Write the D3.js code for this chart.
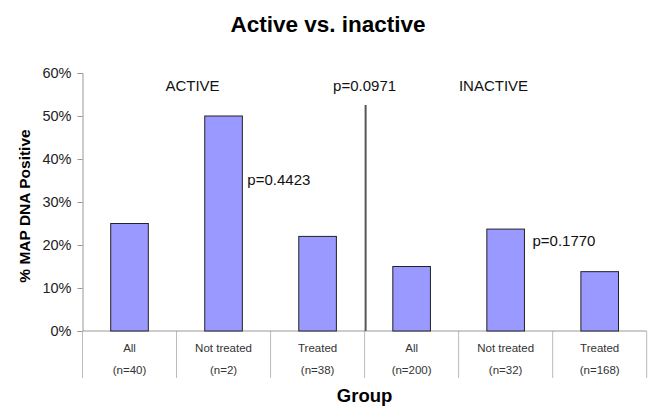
<!DOCTYPE html>
<html>
<head>
<meta charset="utf-8">
<script src="https://cdn.jsdelivr.net/npm/d3@7"></script>
<style>
  body { margin: 0; background: #fff; }
  svg { display: block; font-family: "Liberation Sans", Arial, sans-serif; }
</style>
</head>
<body>
<svg id="chart" width="650" height="406"></svg>
<script>
const categories = ["All", "Not treated", "Treated", "All", "Not treated", "Treated"];
const nLabels = ["(n=40)", "(n=2)", "(n=38)", "(n=200)", "(n=32)", "(n=168)"];
const values = [25, 50, 22, 15, 23.7, 13.8];
const yTicks = [0, 10, 20, 30, 40, 50, 60];
const groupLabels = ["ACTIVE", "INACTIVE"];
const pLabels = ["p=0.4423", "p=0.0971", "p=0.1770"];

const svg = d3.select("#chart");
const margin = { top: 73, right: 3.3, bottom: 75, left: 82.5 };
const W = 650, H = 406;
const x = d3.scaleBand().domain(d3.range(categories.length)).range([margin.left, W - margin.right]).padding(0);
const y = d3.scaleLinear().domain([0, 60]).range([H - margin.bottom, margin.top]);
const bw = x.bandwidth();
const barW = bw * 0.4;

// Title
svg.append("text").attr("x", 328).attr("y", 32).attr("text-anchor", "middle")
  .attr("font-size", 22.5).attr("font-weight", "bold").attr("fill", "#000").text("Active vs. inactive");

// Y axis
const yAxis = d3.axisLeft(y).tickValues(yTicks).tickFormat(d => d + "%").tickSize(5).tickPadding(6);
const gy = svg.append("g").attr("transform", `translate(${margin.left},0)`).call(yAxis);
gy.select(".domain").attr("stroke", "#999");
gy.selectAll(".tick line").attr("stroke", "#999");
gy.selectAll(".tick text").attr("font-size", 14.5).attr("fill", "#222").attr("font-family", "Liberation Sans, Arial, sans-serif");

// Y axis title
svg.append("text").attr("transform", `translate(30,${(y(0) + y(60)) / 2 + 4}) rotate(-90)`)
  .attr("text-anchor", "middle").attr("font-size", 15.5).attr("font-weight", "bold").attr("fill", "#000")
  .text("% MAP DNA Positive");

// Category table lines below axis
const y0 = y(0);
const edges = d3.range(categories.length + 1).map(i => i < categories.length ? x(i) : x(i - 1) + bw);
svg.selectAll("line.div").data(edges).enter().append("line")
  .attr("x1", d => d).attr("x2", d => d).attr("y1", y0).attr("y2", y0 + 47)
  .attr("stroke", "#bbb").attr("stroke-width", 1);

// X axis line
svg.append("line").attr("x1", margin.left).attr("x2", W - margin.right).attr("y1", y0).attr("y2", y0)
  .attr("stroke", "#999").attr("stroke-width", 1);

// Bars
svg.selectAll("rect.bar").data(values).enter().append("rect")
  .attr("x", (d, i) => x(i) + (bw - barW) / 2)
  .attr("y", d => y(d))
  .attr("width", barW)
  .attr("height", d => y0 - y(d))
  .attr("fill", "#9999FF").attr("stroke", "#222").attr("stroke-width", 1);

// Category labels
svg.selectAll("text.cat").data(categories).enter().append("text")
  .attr("x", (d, i) => x(i) + bw / 2).attr("y", y0 + 21).attr("text-anchor", "middle")
  .attr("font-size", 11.5).attr("fill", "#333").text(d => d);
svg.selectAll("text.n").data(nLabels).enter().append("text")
  .attr("x", (d, i) => x(i) + bw / 2).attr("y", y0 + 43).attr("text-anchor", "middle")
  .attr("font-size", 11.5).attr("fill", "#333").text(d => d);

// X axis title
svg.append("text").attr("x", x(3)).attr("y", 402).attr("text-anchor", "middle")
  .attr("font-size", 18.5).attr("font-weight", "bold").attr("fill", "#000").text("Group");

// Separator line between groups
svg.append("line").attr("x1", x(3) + 1).attr("x2", x(3) + 1).attr("y1", 105).attr("y2", y0)
  .attr("stroke", "#555").attr("stroke-width", 2);

// Group labels
svg.append("text").attr("x", 192.5).attr("y", 90.5).attr("text-anchor", "middle")
  .attr("font-size", 15).attr("fill", "#111").text(groupLabels[0]);
svg.append("text").attr("x", 493.5).attr("y", 90.5).attr("text-anchor", "middle")
  .attr("font-size", 15).attr("fill", "#111").text(groupLabels[1]);

// p-values
svg.append("text").attr("x", x(1) + (bw + barW) / 2 + 5).attr("y", 184.5)
  .attr("font-size", 15).attr("fill", "#111").text(pLabels[0]);
svg.append("text").attr("x", x(3)).attr("y", 90.5).attr("text-anchor", "middle")
  .attr("font-size", 15).attr("fill", "#111").text(pLabels[1]);
svg.append("text").attr("x", x(4) + (bw + barW) / 2 + 8).attr("y", 246)
  .attr("font-size", 15).attr("fill", "#111").text(pLabels[2]);
</script>
</body>
</html>
